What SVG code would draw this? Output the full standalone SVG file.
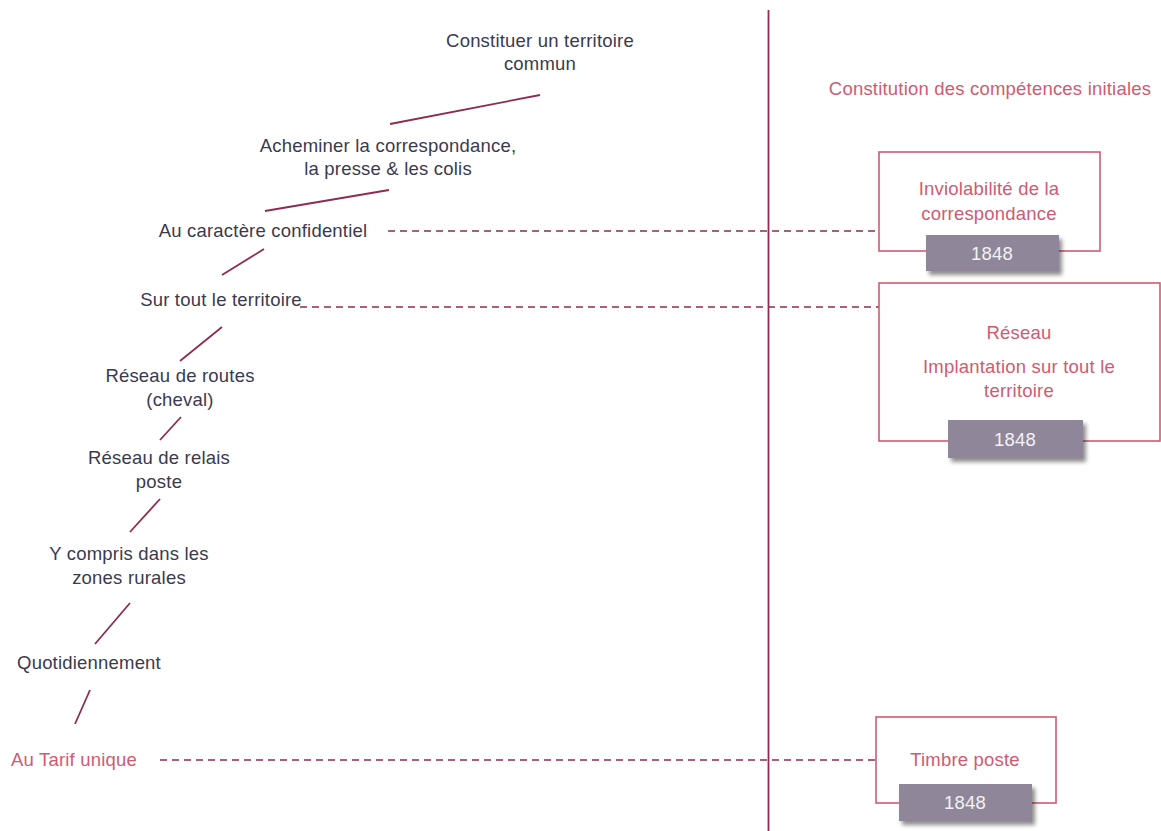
<svg xmlns="http://www.w3.org/2000/svg" width="1161" height="831" viewBox="0 0 1161 831">
<defs>
<filter id="sh" x="-20%" y="-30%" width="150%" height="180%">
<feGaussianBlur in="SourceAlpha" stdDeviation="2"/>
<feOffset dx="3" dy="4" result="b"/>
<feComponentTransfer><feFuncA type="linear" slope="0.45"/></feComponentTransfer>
<feMerge><feMergeNode/><feMergeNode in="SourceGraphic"/></feMerge>
</filter>
</defs>
<style>
text{font-family:"Liberation Sans",Arial,sans-serif;font-size:18.5px;letter-spacing:0.2px;text-anchor:middle}
.d{fill:#3a3a4f}
.p{fill:#d05a72}
.y{fill:#f2f2f4}
.ln{stroke:#8e2b50;stroke-width:1.8;fill:none}
.ds{stroke:#8e2b50;stroke-width:1.6;fill:none;stroke-dasharray:7 5}
.bx{fill:#fff;stroke:#d05a72;stroke-width:1.6}
.g{fill:#8f8799}
</style>
<rect width="1161" height="831" fill="#fff"/>
<g id="connectors">
<line class="ln" x1="768.5" y1="10" x2="768.5" y2="831" stroke-width="2"/>
<line class="ln" x1="390" y1="124" x2="540" y2="95"/>
<line class="ln" x1="265" y1="211" x2="389" y2="190"/>
<line class="ln" x1="222" y1="275" x2="264" y2="249"/>
<line class="ln" x1="180" y1="361" x2="222" y2="327"/>
<line class="ln" x1="160" y1="440" x2="181" y2="417"/>
<line class="ln" x1="130" y1="532" x2="160" y2="499"/>
<line class="ln" x1="95" y1="644" x2="130" y2="603"/>
<line class="ln" x1="75" y1="724" x2="90" y2="690"/>
<line class="ds" x1="388" y1="231" x2="879" y2="231"/>
<line class="ds" x1="300" y1="307" x2="879" y2="307"/>
<line class="ds" x1="160" y1="760" x2="876" y2="760"/>
</g>
<g id="n-constituer"><text class="d" x="540" y="47">Constituer un territoire</text><text class="d" x="540" y="70">commun</text></g>
<g id="n-acheminer"><text class="d" x="388" y="152">Acheminer la correspondance,</text><text class="d" x="388" y="175">la presse &amp; les colis</text></g>
<g id="n-confidentiel"><text class="d" x="263" y="237">Au caractère confidentiel</text></g>
<g id="n-territoire"><text class="d" x="221" y="306">Sur tout le territoire</text></g>
<g id="n-routes"><text class="d" x="180" y="382">Réseau de routes</text><text class="d" x="180" y="406">(cheval)</text></g>
<g id="n-relais"><text class="d" x="159" y="464">Réseau de relais</text><text class="d" x="159" y="488">poste</text></g>
<g id="n-rurales"><text class="d" x="129" y="560">Y compris dans les</text><text class="d" x="129" y="584">zones rurales</text></g>
<g id="n-quotidien"><text class="d" x="89" y="669">Quotidiennement</text></g>
<g id="n-tarif"><text class="p" x="74" y="766">Au Tarif unique</text></g>
<g id="n-titre"><text class="p" x="990" y="95">Constitution des compétences initiales</text></g>
<g id="n-inviolabilite">
<rect class="bx" x="879" y="152" width="221" height="99"/>
<text class="p" x="989" y="195">Inviolabilité de la</text>
<text class="p" x="989" y="220">correspondance</text>
<rect class="g" x="926" y="235" width="133" height="36" filter="url(#sh)"/>
<text class="y" x="992" y="260">1848</text>
</g>
<g id="n-reseau">
<rect class="bx" x="879" y="283" width="281" height="158"/>
<text class="p" x="1019" y="339">Réseau</text>
<text class="p" x="1019" y="373">Implantation sur tout le</text>
<text class="p" x="1019" y="397">territoire</text>
<rect class="g" x="948" y="420" width="135" height="38" filter="url(#sh)"/>
<text class="y" x="1015" y="446">1848</text>
</g>
<g id="n-timbre">
<rect class="bx" x="876" y="717" width="180" height="86"/>
<text class="p" x="965" y="766">Timbre poste</text>
<rect class="g" x="899" y="784" width="133" height="37" filter="url(#sh)"/>
<text class="y" x="965" y="809">1848</text>
</g>
</svg>
